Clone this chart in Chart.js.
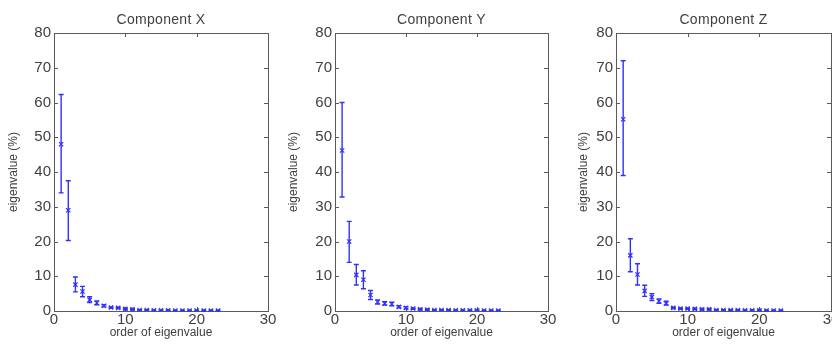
<!DOCTYPE html>
<html lang="en">
<head>
<meta charset="UTF-8">
<title>Eigenvalue spectra</title>
<style>
  html, body { margin: 0; padding: 0; background: #fff; }
  body { width: 832px; height: 345px; overflow: hidden; position: relative; }
  canvas { position: absolute; top: 0; }
</style>
</head>
<body>
<canvas id="chartX" width="280" height="345" style="left:0px"></canvas>
<canvas id="chartY" width="280" height="345" style="left:280px"></canvas>
<canvas id="chartZ" width="283" height="345" style="left:560px"></canvas>

<script src="https://cdn.jsdelivr.net/npm/chart.js"></script>
<script>
// order of eigenvalue (shared x values)
const order = [1, 2, 3, 4, 5, 6, 7, 8, 9, 10, 11, 12, 13, 14, 15, 16, 17, 18, 19, 20, 21, 22, 23]
const xTicks = [0, 10, 20, 30]
const yTicks = [0, 10, 20, 30, 40, 50, 60, 70, 80]

// component X: mean eigenvalue (%) with lower / upper error limits
const meanX = [48, 29, 7.6, 5.6, 3.2, 2.3, 1.5, 1.0, 0.9, 0.6, 0.5, 0.3, 0.3, 0.2, 0.2, 0.2, 0.15, 0.15, 0.15, 0.15, 0.1, 0.1, 0.1]
const lowX  = [34, 20.3, 5.5, 4.1, 2.4, 1.8, 1.2, 0.8, 0.7, 0.4, 0.3, 0.2, 0.2, 0.1, 0.1, 0.1, 0.05, 0.05, 0.05, 0.05, 0.0, 0.0, 0.0]
const highX = [62.3, 37.5, 9.8, 7.1, 4.1, 2.9, 1.8, 1.2, 1.1, 0.8, 0.7, 0.4, 0.4, 0.3, 0.3, 0.3, 0.25, 0.25, 0.25, 0.25, 0.2, 0.2, 0.2]

// component Y
const meanY = [46.2, 20, 10.4, 9.0, 4.6, 2.6, 2.2, 2.0, 1.2, 0.9, 0.7, 0.5, 0.4, 0.3, 0.3, 0.25, 0.2, 0.2, 0.2, 0.2, 0.15, 0.15, 0.1]
const lowY  = [32.8, 14, 7.5, 6.4, 3.3, 2.0, 1.7, 1.5, 0.9, 0.6, 0.5, 0.3, 0.2, 0.2, 0.2, 0.15, 0.1, 0.1, 0.1, 0.1, 0.05, 0.05, 0.0]
const highY = [60, 25.8, 13.4, 11.6, 5.9, 3.2, 2.7, 2.5, 1.5, 1.2, 0.9, 0.7, 0.6, 0.4, 0.4, 0.35, 0.3, 0.3, 0.3, 0.3, 0.25, 0.25, 0.2]

// component Z
const meanZ = [55.2, 16, 10.5, 5.8, 4.0, 2.8, 2.2, 0.9, 0.7, 0.7, 0.6, 0.5, 0.5, 0.3, 0.3, 0.25, 0.25, 0.2, 0.2, 0.2, 0.15, 0.15, 0.1]
const lowZ  = [39, 11.3, 7.5, 4.2, 3.0, 2.2, 1.7, 0.7, 0.5, 0.5, 0.4, 0.3, 0.3, 0.2, 0.2, 0.15, 0.15, 0.1, 0.1, 0.1, 0.05, 0.05, 0.0]
const highZ = [72, 20.8, 13.6, 7.4, 5.0, 3.5, 2.8, 1.1, 0.9, 0.9, 0.8, 0.7, 0.7, 0.4, 0.4, 0.35, 0.35, 0.3, 0.3, 0.3, 0.25, 0.25, 0.2]

const blue = '#3030ff'
const axisGray = '#5a5a5a'
const textGray = '#404040'
const fontFamily = 'Liberation Sans, Arial, sans-serif'
const tickFont = { family: fontFamily, size: 15 }
const labelFont = { family: fontFamily, size: 12 }

// box round the plot area with matlab style inward ticks on every side
const boxPlugin = {
  id: 'boxPlugin',
  beforeDatasetsDraw(chart) {
    const { ctx, chartArea: a, scales } = chart
    ctx.save()
    ctx.strokeStyle = axisGray
    ctx.lineWidth = 1
    ctx.strokeRect(Math.round(a.left) + 0.5, Math.round(a.top) + 0.5,
      Math.round(a.right - a.left), Math.round(a.bottom - a.top))
    ctx.beginPath()
    xTicks.forEach(v => {
      const x = Math.round(scales.x.getPixelForValue(v)) + 0.5
      ctx.moveTo(x, a.bottom); ctx.lineTo(x, a.bottom - 4)
      ctx.moveTo(x, a.top); ctx.lineTo(x, a.top + 4)
    })
    yTicks.forEach(v => {
      const y = Math.round(scales.y.getPixelForValue(v)) + 0.5
      ctx.moveTo(a.left, y); ctx.lineTo(a.left + 4, y)
      ctx.moveTo(a.right, y); ctx.lineTo(a.right - 4, y)
    })
    ctx.stroke()
    ctx.restore()
  }
}

// panel title centred over the plot area
const panelTitle = {
  id: 'panelTitle',
  afterDraw(chart, args, opts) {
    const { ctx, chartArea: a } = chart
    ctx.save()
    ctx.fillStyle = textGray
    ctx.font = '14px ' + fontFamily
    ctx.letterSpacing = '0.3px'
    ctx.textAlign = 'center'
    ctx.textBaseline = 'middle'
    ctx.fillText(opts.text, (a.left + a.right) / 2, 20)
    ctx.restore()
  }
}

// vertical error bars with small caps
const errorBarPlugin = {
  id: 'errorBarPlugin',
  afterDatasetsDraw(chart, args, opts) {
    const { ctx, scales } = chart
    ctx.save()
    ctx.strokeStyle = blue
    ctx.lineWidth = 1.4
    ctx.beginPath()
    order.forEach((o, i) => {
      const x = scales.x.getPixelForValue(o)
      const yl = scales.y.getPixelForValue(opts.low[i])
      const yh = scales.y.getPixelForValue(opts.high[i])
      ctx.moveTo(x, yl); ctx.lineTo(x, yh)
      ctx.moveTo(x - 2.5, yl); ctx.lineTo(x + 2.5, yl)
      ctx.moveTo(x - 2.5, yh); ctx.lineTo(x + 2.5, yh)
    })
    ctx.stroke()
    ctx.restore()
  }
}

function makeChart(id, title, mean, low, high, yWidth, yTitlePad) {
  new Chart(document.getElementById(id), {
    type: 'scatter',
    data: {
      datasets: [{
        data: order.map((o, i) => ({ x: o, y: mean[i] })),
        pointStyle: 'crossRot',
        radius: 3,
        borderColor: blue,
        borderWidth: 1.2,
        showLine: false
      }]
    },
    options: {
      responsive: false,
      animation: false,
      devicePixelRatio: 1,
      layout: { padding: { left: 0, right: 12, top: 33, bottom: 0 } },
      plugins: {
        legend: { display: false },
        tooltip: { enabled: false },
        title: { display: false },
        panelTitle: { text: title },
        errorBarPlugin: { low: low, high: high }
      },
      scales: {
        x: {
          type: 'linear',
          min: 0, max: 30,
          afterFit(s) { s.height = 34 },
          afterBuildTicks(s) { s.ticks = xTicks.map(v => ({ value: v })) },
          grid: { display: false, drawTicks: false },
          border: { display: false },
          ticks: { color: textGray, font: tickFont, padding: 0, maxRotation: 0 },
          title: { display: true, text: 'order of eigenvalue', color: textGray, font: labelFont, padding: { top: 0, bottom: 5 } }
        },
        y: {
          type: 'linear',
          min: 0, max: 80,
          afterFit(s) { s.width = yWidth },
          afterBuildTicks(s) { s.ticks = yTicks.map(v => ({ value: v })) },
          grid: { display: false, drawTicks: false },
          border: { display: false },
          ticks: { color: textGray, font: tickFont, padding: 3 },
          title: { display: true, text: 'eigenvalue (%)', color: textGray, font: labelFont, padding: { top: yTitlePad, bottom: 0 } }
        }
      }
    },
    plugins: [boxPlugin, errorBarPlugin, panelTitle]
  })
}

makeChart('chartX', 'Component X', meanX, lowX, highX, 54, 6)
makeChart('chartY', 'Component Y', meanY, lowY, highY, 55, 6)
makeChart('chartZ', 'Component Z', meanZ, lowZ, highZ, 56, 16)
</script>
</body>
</html>
